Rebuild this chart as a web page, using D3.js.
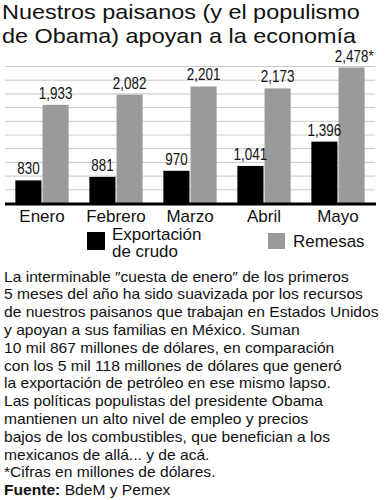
<!DOCTYPE html>
<html>
<head>
<meta charset="utf-8">
<script src="https://cdn.jsdelivr.net/npm/d3@7"></script>
<style>
  body { margin: 0; background: #fff; }
  svg { display: block; font-family: "Liberation Sans", Arial, sans-serif; }
</style>
</head>
<body>
<div id="chart"></div>
<script>
// data
const meses = ["Enero", "Febrero", "Marzo", "Abril", "Mayo"];
const exportacion = [830, 881, 970, 1041, 1396];
const remesas = [1933, 2082, 2201, 2173, 2478];
const remesasNota = ["", "", "", "", "*"];
const series = ["Exportación de crudo", "Remesas"];
const gridTicks = [700, 900, 1100, 1300, 1500, 1700, 1900, 2100, 2300, 2500];

const titulo = ["Nuestros paisanos (y el populismo", "de Obama) apoyan a la economía"];
const texto = [
  "La interminable ″cuesta de enero″ de los primeros",
  "5 meses del año ha sido suavizada por los recursos",
  "de nuestros paisanos que trabajan en Estados Unidos",
  "y apoyan a sus familias en México. Suman",
  "10 mil 867 millones de dólares, en comparación",
  "con los 5 mil 118 millones de dólares que generó",
  "la exportación de petróleo en ese mismo lapso.",
  "Las políticas populistas del presidente Obama",
  "mantienen un alto nivel de empleo y precios",
  "bajos de los combustibles, que benefician a los",
  "mexicanos de allá... y de acá.",
  "*Cifras en millones de dólares."
];
const fuente = ["Fuente:", " BdeM y Pemex"];

var cfg = {
  w: 389,
  h: 500,
  left: 5,
  right: 375,
  top: 66,
  base: 203,
  black: "#000",
  gray: "#9a9a9a",
  grid: "#c8c8c8",
  ink: "#111"
};

const svg = d3.select("#chart").append("svg")
    .attr("width", cfg.w)
    .attr("height", cfg.h);

// title (font is a bit wider than Liberation, so stretch it)
svg.append("g").selectAll("text")
  .data(titulo)
  .enter().append("text")
    .attr("transform", function(d, i){ return "translate(2," + (19.2 + i * 23.6) + ") scale(1.115,1)"; })
    .style("font-size", "21px")
    .style("fill", cfg.ink)
    .text(function(d){ return d; });

// scales
const x = d3.scaleBand()
  .domain(meses)
  .range([cfg.left, cfg.right])
  .paddingInner(0.28)
  .paddingOuter(0.14);

const xSub = d3.scaleBand()
  .domain([0, 1])
  .range([0, x.bandwidth()])
  .paddingInner(0.04);

const y = d3.scaleLinear()
  .domain([500, 2500])
  .range([cfg.base, cfg.top]);

// grid
svg.append("g").selectAll("line")
  .data(gridTicks)
  .enter().append("line")
    .attr("x1", cfg.left)
    .attr("x2", cfg.right)
    .attr("y1", function(d){ return y(d) + 0.5; })
    .attr("y2", function(d){ return y(d) + 0.5; })
    .style("stroke", cfg.grid)
    .style("stroke-width", 1);

// bars
const groups = svg.append("g").selectAll("g")
  .data(meses)
  .enter().append("g")
    .attr("transform", function(d){ return "translate(" + x(d) + ",0)"; });

const allSeries = [exportacion, remesas];

allSeries.forEach(function(vals, s){
  groups.append("rect")
    .attr("x", xSub(s))
    .attr("width", xSub.bandwidth())
    .attr("y", function(d, i){ return y(vals[i]); })
    .attr("height", function(d, i){ return cfg.base - y(vals[i]); })
    .style("fill", s === 0 ? cfg.black : cfg.gray);
});

// value labels, condensed look
const squeeze = 0.84;
allSeries.forEach(function(vals, s){
  groups.append("text")
    .attr("transform", function(d, i){
      return "translate(" + (xSub(s) + xSub.bandwidth() / 2) + "," + (y(vals[i]) - 6) + ") scale(" + squeeze + ",1)";
    })
    .attr("text-anchor", "middle")
    .style("font-size", "16px")
    .style("fill", cfg.ink)
    .text(function(d, i){ return d3.format(",")(vals[i]); })
    .each(function(d, i){
      if (s === 1 && remesasNota[i]) {
        const wdt = this.getComputedTextLength() * squeeze;
        d3.select(this.parentNode).append("text")
          .attr("transform", "translate(" + (xSub(s) + xSub.bandwidth() / 2 + wdt / 2) + "," + (y(vals[i]) - 6) + ") scale(" + squeeze + ",1)")
          .style("font-size", "16px")
          .style("fill", cfg.ink)
          .text(remesasNota[i]);
      }
    });
});

// baseline
svg.append("line")
  .attr("x1", cfg.left)
  .attr("x2", cfg.right + 1)
  .attr("y1", cfg.base + 1)
  .attr("y2", cfg.base + 1)
  .style("stroke", "#000")
  .style("stroke-width", 3);

// month labels
svg.append("g").selectAll("text")
  .data(meses)
  .enter().append("text")
    .attr("x", function(d){ return x(d) + x.bandwidth() / 2; })
    .attr("y", 222)
    .attr("text-anchor", "middle")
    .style("font-size", "17px")
    .style("fill", cfg.ink)
    .text(function(d){ return d; });

// legend
const legend = svg.append("g");
legend.append("rect")
  .attr("x", 87).attr("y", 232).attr("width", 18).attr("height", 18)
  .style("fill", cfg.black);
legend.append("text")
  .attr("transform", "translate(112,240) scale(1.06,1)")
  .style("font-size", "16px").style("fill", cfg.ink)
  .selectAll("tspan")
  .data(["Exportación", "de crudo"])
  .enter().append("tspan")
    .attr("x", 0)
    .attr("dy", function(d, i){ return i ? 17 : 0; })
    .text(function(d){ return d; });
legend.append("rect")
  .attr("x", 268).attr("y", 233).attr("width", 17).attr("height", 16)
  .style("fill", cfg.gray);
legend.append("text")
  .attr("transform", "translate(293,247) scale(1.06,1)")
  .style("font-size", "16px").style("fill", cfg.ink)
  .text(series[1]);

// body text
svg.append("g").selectAll("text")
  .data(texto)
  .enter().append("text")
    .attr("transform", function(d, i){ return "translate(4," + (281.5 + i * 17.8) + ") scale(1.04,1)"; })
    .style("font-size", "15px")
    .style("fill", cfg.ink)
    .text(function(d){ return d; });

const src = svg.append("text")
  .attr("transform", "translate(4," + (281.5 + 12 * 17.8) + ") scale(1.04,1)")
  .style("font-size", "15px")
  .style("fill", cfg.ink);
src.append("tspan").style("font-weight", "bold").text(fuente[0]);
src.append("tspan").text(fuente[1]);
</script>
</body>
</html>
